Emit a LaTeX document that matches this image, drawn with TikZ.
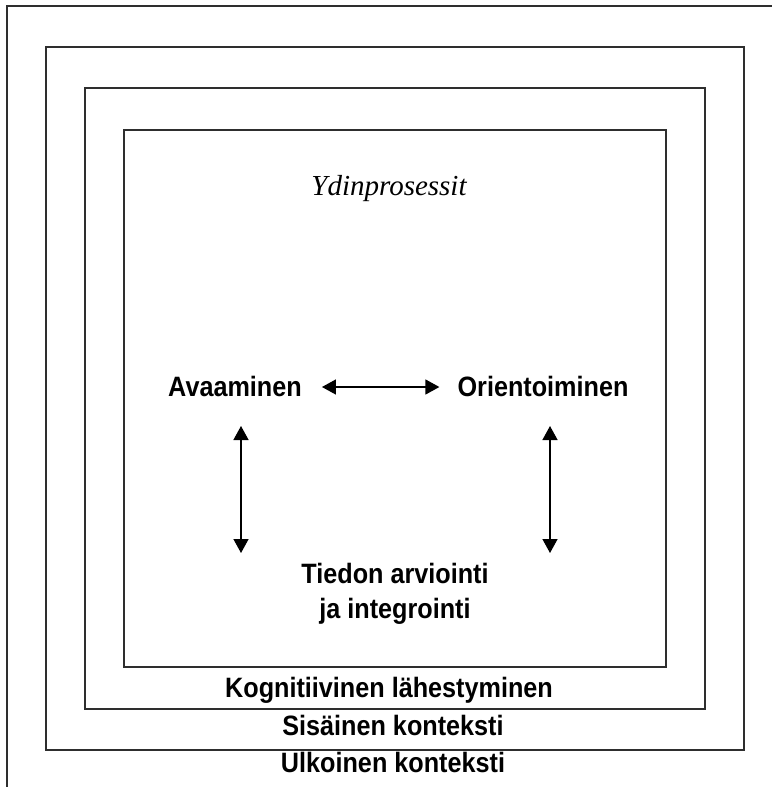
\documentclass[tikz,border=0pt]{standalone}
\usepackage{fontspec}
\setmainfont{Liberation Sans}
\newfontfamily\lblfont[FakeStretch=0.9]{Liberation Sans}
\newfontfamily\serifit{Liberation Serif}
\usetikzlibrary{arrows.meta}
\begin{document}
\begin{tikzpicture}[x=1pt,y=-1pt,
  frame/.style={draw=black!82,line width=1.5pt},
  lbl/.style={font=\fontsize{28}{35}\lblfont\bfseries,anchor=base,inner sep=0pt},
  arr/.style={line width=1.4pt,{Triangle[length=14pt,width=15pt]}-{Triangle[length=14pt,width=15pt]}}]
\useasboundingbox (0,0) rectangle (772,787);
% frames
\draw[frame] (7,787) -- (7,6) -- (772,6);
\draw[frame] (46,47) rectangle (744,750);
\draw[frame] (85,88) rectangle (705,709);
\draw[frame] (124,130) rectangle (666,667);
% title
\node[anchor=base,inner sep=0pt,font=\fontsize{29}{34}\selectfont\serifit\itshape] (title) at (389,195) {Ydinprosessit};
% core processes
\node[lbl] (ava) at (235,396) {Avaaminen};
\node[lbl] (ori) at (543,396) {Orientoiminen};
\node[lbl,align=center] (tie) at (395,618) {Tiedon arviointi\\ja integrointi};
% layer labels
\node[lbl] (kog) at (389,697) {Kognitiivinen lähestyminen};
\node[lbl] (sis) at (393,735) {Sisäinen konteksti};
\node[lbl] (ulk) at (393,772) {Ulkoinen konteksti};
% arrow ends
\coordinate (lt) at (241,426);
\coordinate (lb) at (241,553);
\coordinate (rt) at (550,426);
\coordinate (rb) at (550,553);
\draw[arr] ([xshift=20pt]ava.east |- 0,387) -- ([xshift=-18pt]ori.west |- 0,387);
\draw[arr] (lt) -- (lb);
\draw[arr] (rt) -- (rb);
\end{tikzpicture}
\end{document}
